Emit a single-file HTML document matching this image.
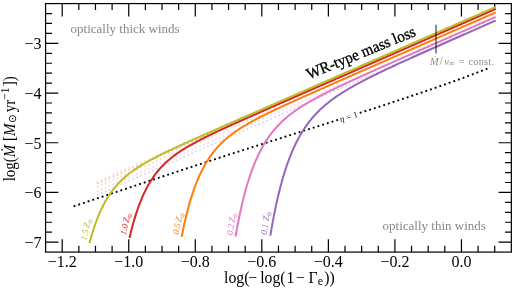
<!DOCTYPE html>
<html><head><meta charset="utf-8"><title>WR-type mass loss</title>
<style>
html,body{margin:0;padding:0;background:#fff;}
body{width:515px;height:292px;overflow:hidden;font-family:"Liberation Serif",serif;}
svg{display:block;will-change:transform;}
text{font-family:"Liberation Serif",serif;}
.tl{font-size:16px;fill:#000;}
.al{font-size:15px;fill:#000;}
.an{font-size:13px;fill:#888;}
.wr{font-size:15.1px;fill:#000;stroke:#000;stroke-width:0.3px;}
.mv{font-size:10.4px;fill:#8c8c8c;}
.eta{font-size:8.6px;fill:#000;}
.zl{font-size:9px;font-style:italic;}
</style></head><body>
<svg width="515" height="292" viewBox="0 0 515 292">
<rect width="515" height="292" fill="#fff"/>
<rect x="45.57" y="3.59" width="465.78" height="248.50" fill="none" stroke="#000" stroke-width="1.2"/>
<path d="M62.20 252.09v-12.8M62.20 3.59v12.8M78.84 252.09v-6.4M78.84 3.59v6.4M95.47 252.09v-6.4M95.47 3.59v6.4M112.11 252.09v-6.4M112.11 3.59v6.4M128.74 252.09v-12.8M128.74 3.59v12.8M145.38 252.09v-6.4M145.38 3.59v6.4M162.01 252.09v-6.4M162.01 3.59v6.4M178.65 252.09v-6.4M178.65 3.59v6.4M195.28 252.09v-12.8M195.28 3.59v12.8M211.92 252.09v-6.4M211.92 3.59v6.4M228.55 252.09v-6.4M228.55 3.59v6.4M245.19 252.09v-6.4M245.19 3.59v6.4M261.82 252.09v-12.8M261.82 3.59v12.8M278.46 252.09v-6.4M278.46 3.59v6.4M295.10 252.09v-6.4M295.10 3.59v6.4M311.73 252.09v-6.4M311.73 3.59v6.4M328.37 252.09v-12.8M328.37 3.59v12.8M345.00 252.09v-6.4M345.00 3.59v6.4M361.64 252.09v-6.4M361.64 3.59v6.4M378.27 252.09v-6.4M378.27 3.59v6.4M394.91 252.09v-12.8M394.91 3.59v12.8M411.54 252.09v-6.4M411.54 3.59v6.4M428.18 252.09v-6.4M428.18 3.59v6.4M444.81 252.09v-6.4M444.81 3.59v6.4M461.45 252.09v-12.8M461.45 3.59v12.8M478.09 252.09v-6.4M478.09 3.59v6.4M494.72 252.09v-6.4M494.72 3.59v6.4M45.57 242.15h12.8M511.35 242.15h-12.8M45.57 232.21h6.4M511.35 232.21h-6.4M45.57 222.27h6.4M511.35 222.27h-6.4M45.57 212.33h6.4M511.35 212.33h-6.4M45.57 202.39h6.4M511.35 202.39h-6.4M45.57 192.45h12.8M511.35 192.45h-12.8M45.57 182.51h6.4M511.35 182.51h-6.4M45.57 172.57h6.4M511.35 172.57h-6.4M45.57 162.63h6.4M511.35 162.63h-6.4M45.57 152.69h6.4M511.35 152.69h-6.4M45.57 142.75h12.8M511.35 142.75h-12.8M45.57 132.81h6.4M511.35 132.81h-6.4M45.57 122.87h6.4M511.35 122.87h-6.4M45.57 112.93h6.4M511.35 112.93h-6.4M45.57 102.99h6.4M511.35 102.99h-6.4M45.57 93.05h12.8M511.35 93.05h-12.8M45.57 83.11h6.4M511.35 83.11h-6.4M45.57 73.17h6.4M511.35 73.17h-6.4M45.57 63.23h6.4M511.35 63.23h-6.4M45.57 53.29h6.4M511.35 53.29h-6.4M45.57 43.35h12.8M511.35 43.35h-12.8M45.57 33.41h6.4M511.35 33.41h-6.4M45.57 23.47h6.4M511.35 23.47h-6.4M45.57 13.53h6.4M511.35 13.53h-6.4" stroke="#000" stroke-width="1.2" fill="none"/>
<line x1="96.90" y1="195.06" x2="494.72" y2="20.83" stroke="#9467bd" stroke-opacity="0.3" stroke-width="1.7" stroke-dasharray="1.7 2.6" fill="none"/>
<line x1="96.90" y1="191.62" x2="494.72" y2="17.38" stroke="#e377c2" stroke-opacity="0.3" stroke-width="1.7" stroke-dasharray="1.7 2.6" fill="none"/>
<line x1="96.90" y1="187.07" x2="494.72" y2="12.84" stroke="#ff7f0e" stroke-opacity="0.3" stroke-width="1.7" stroke-dasharray="1.7 2.6" fill="none"/>
<line x1="96.90" y1="183.63" x2="494.72" y2="9.39" stroke="#d62728" stroke-opacity="0.3" stroke-width="1.7" stroke-dasharray="1.7 2.6" fill="none"/>
<line x1="96.90" y1="181.62" x2="494.72" y2="7.38" stroke="#bcbd22" stroke-opacity="0.3" stroke-width="1.7" stroke-dasharray="1.7 2.6" fill="none"/>
<polyline points="73.60,206.30 77.08,205.14 80.56,203.97 84.04,202.81 87.51,201.64 90.99,200.48 94.47,199.31 97.95,198.14 101.43,196.98 104.91,195.81 108.39,194.64 111.86,193.47 115.34,192.30 118.82,191.13 122.30,189.97 125.78,188.80 129.26,187.63 132.74,186.47 136.21,185.30 139.69,184.13 143.17,182.97 146.65,181.81 150.13,180.64 153.61,179.48 157.09,178.32 160.56,177.16 164.04,176.01 167.52,174.85 171.00,173.69 174.48,172.54 177.96,171.39 181.44,170.24 184.91,169.09 188.39,167.94 191.87,166.80 195.35,165.65 198.83,164.51 202.31,163.37 205.79,162.23 209.26,161.09 212.74,159.96 216.22,158.83 219.70,157.69 223.18,156.56 226.66,155.43 230.14,154.31 233.61,153.18 237.09,152.06 240.57,150.94 244.05,149.82 247.53,148.70 251.01,147.58 254.49,146.46 257.96,145.35 261.44,144.24 264.92,143.12 268.40,142.01 271.88,140.90 275.36,139.79 278.84,138.69 282.31,137.58 285.79,136.47 289.27,135.37 292.75,134.26 296.23,133.16 299.71,132.06 303.19,130.95 306.66,129.85 310.14,128.75 313.62,127.64 317.10,126.54 320.58,125.44 324.06,124.33 327.54,123.23 331.01,122.13 334.49,121.02 337.97,119.91 341.45,118.80 344.93,117.70 348.41,116.59 351.89,115.47 355.36,114.36 358.84,113.24 362.32,112.13 365.80,111.01 369.28,109.88 372.76,108.76 376.24,107.63 379.71,106.50 383.19,105.36 386.67,104.22 390.15,103.08 393.63,101.94 397.11,100.79 400.59,99.63 404.06,98.47 407.54,97.31 411.02,96.14 414.50,94.97 417.98,93.79 421.46,92.60 424.94,91.41 428.41,90.21 431.89,89.01 435.37,87.80 438.85,86.58 442.33,85.36 445.81,84.12 449.29,82.88 452.76,81.63 456.24,80.37 459.72,79.11 463.20,77.83 466.68,76.55 470.16,75.25 473.64,73.95 477.11,72.63 480.59,71.31 484.07,69.97 487.55,68.62" stroke="#000" stroke-width="1.9" stroke-dasharray="1.9 3.035" fill="none"/>
<polyline points="270.51,234.64 271.07,231.32 271.63,228.08 272.19,224.92 272.76,221.85 273.32,218.85 273.88,215.93 274.44,213.09 275.00,210.31 275.57,207.61 276.13,204.98 276.69,202.41 277.25,199.90 277.81,197.46 278.38,195.08 278.94,192.75 279.50,190.49 280.06,188.27 280.62,186.12 281.19,184.01 281.75,181.96 282.31,179.95 282.87,178.00 283.43,176.09 284.00,174.22 284.56,172.40 285.12,170.62 285.68,168.89 286.24,167.19 286.80,165.54 287.37,163.92 287.93,162.34 288.49,160.79 289.05,159.28 289.61,157.80 290.18,156.36 290.74,154.95 291.30,153.57 291.86,152.22 292.42,150.90 292.99,149.61 293.55,148.35 294.11,147.11 294.67,145.90 295.23,144.72 295.80,143.56 296.36,142.42 296.92,141.31 297.48,140.22 298.04,139.16 298.61,138.11 299.17,137.09 299.73,136.09 300.29,135.10 300.85,134.14 301.42,133.19 301.98,132.27 302.54,131.36 303.10,130.47 303.66,129.59 304.22,128.73 304.79,127.89 305.35,127.06 305.91,126.25 306.47,125.46 307.03,124.67 307.60,123.90 308.16,123.15 308.72,122.41 309.28,121.68 309.84,120.96 310.41,120.26 310.97,119.56 311.53,118.88 312.09,118.21 312.65,117.55 313.22,116.90 313.78,116.26 314.34,115.63 314.90,115.01 315.46,114.40 316.03,113.80 316.59,113.21 317.15,112.63 317.71,112.06 318.27,111.49 318.84,110.93 319.40,110.38 319.96,109.84 320.52,109.30 321.08,108.78 321.64,108.26 322.21,107.74 322.77,107.23 323.33,106.73 323.89,106.24 324.45,105.75 325.02,105.27 325.58,104.79 326.14,104.32 326.70,103.86 327.26,103.40 327.83,102.94 328.39,102.49 328.95,102.05 329.51,101.61 330.07,101.17 330.64,100.74 331.20,100.32 331.76,99.90 332.32,99.48 332.88,99.07 333.45,98.66 334.01,98.25 334.57,97.85 335.13,97.45 335.69,97.06 336.26,96.67 336.82,96.28 337.38,95.90 337.94,95.52 338.50,95.14 339.06,94.77 339.63,94.40 340.19,94.03 340.75,93.67 341.31,93.30 341.87,92.94 342.44,92.59 343.00,92.23 343.56,91.88 344.12,91.53 344.68,91.19 345.25,90.84 345.81,90.50 346.37,90.16 346.93,89.82 347.49,89.49 348.06,89.15 348.62,88.82 349.18,88.49 349.74,88.17 350.30,87.84 350.87,87.52 351.43,87.19 351.99,86.87 352.55,86.56 353.11,86.24 353.68,85.92 354.24,85.61 354.80,85.30 355.36,84.99 355.92,84.68 356.48,84.37 357.05,84.06 357.61,83.76 358.17,83.46 358.73,83.15 359.29,82.85 359.86,82.55 360.42,82.25 360.98,81.96 361.54,81.66 362.10,81.36 362.67,81.07 363.23,80.78 363.79,80.49 364.35,80.19 364.91,79.90 365.48,79.61 366.04,79.33 366.60,79.04 367.16,78.75 367.72,78.47 368.29,78.18 368.85,77.90 369.41,77.62 369.97,77.33 370.53,77.05 371.10,76.77 371.66,76.49 372.22,76.21 372.78,75.94 373.34,75.66 373.90,75.38 374.47,75.10 375.03,74.83 375.59,74.55 376.15,74.28 376.71,74.01 377.28,73.73 377.84,73.46 378.40,73.19 378.96,72.92 379.52,72.64 380.09,72.37 380.65,72.10 381.21,71.83 381.77,71.57 382.33,71.30 382.90,71.03 383.46,70.76 384.02,70.49 384.58,70.23 385.14,69.96 385.71,69.69 386.27,69.43 386.83,69.16 387.39,68.90 387.95,68.63 388.52,68.37 389.08,68.11 389.64,67.84 390.20,67.58 390.76,67.32 391.32,67.06 391.89,66.79 392.45,66.53 393.01,66.27 393.57,66.01 394.13,65.75 394.70,65.49 395.26,65.23 395.82,64.97 396.38,64.71 396.94,64.45 397.51,64.19 398.07,63.93 398.63,63.67 399.19,63.42 399.75,63.16 400.32,62.90 400.88,62.64 401.44,62.38 402.00,62.13 402.56,61.87 403.13,61.61 403.69,61.36 404.25,61.10 404.81,60.84 405.37,60.59 405.94,60.33 406.50,60.08 407.06,59.82 407.62,59.57 408.18,59.31 408.74,59.06 409.31,58.80 409.87,58.55 410.43,58.29 410.99,58.04 411.55,57.78 412.12,57.53 412.68,57.28 413.24,57.02 413.80,56.77 414.36,56.52 414.93,56.26 415.49,56.01 416.05,55.76 416.61,55.50 417.17,55.25 417.74,55.00 418.30,54.75 418.86,54.49 419.42,54.24 419.98,53.99 420.55,53.74 421.11,53.49 421.67,53.23 422.23,52.98 422.79,52.73 423.36,52.48 423.92,52.23 424.48,51.98 425.04,51.72 425.60,51.47 426.16,51.22 426.73,50.97 427.29,50.72 427.85,50.47 428.41,50.22 428.97,49.97 429.54,49.72 430.10,49.47 430.66,49.22 431.22,48.97 431.78,48.72 432.35,48.47 432.91,48.22 433.47,47.97 434.03,47.72 434.59,47.47 435.16,47.22 435.72,46.97 436.28,46.72 436.84,46.47 437.40,46.22 437.97,45.97 438.53,45.72 439.09,45.47 439.65,45.22 440.21,44.97 440.78,44.72 441.34,44.47 441.90,44.22 442.46,43.97 443.02,43.72 443.58,43.48 444.15,43.23 444.71,42.98 445.27,42.73 445.83,42.48 446.39,42.23 446.96,41.98 447.52,41.73 448.08,41.48 448.64,41.24 449.20,40.99 449.77,40.74 450.33,40.49 450.89,40.24 451.45,39.99 452.01,39.75 452.58,39.50 453.14,39.25 453.70,39.00 454.26,38.75 454.82,38.50 455.39,38.26 455.95,38.01 456.51,37.76 457.07,37.51 457.63,37.26 458.20,37.02 458.76,36.77 459.32,36.52 459.88,36.27 460.44,36.02 461.00,35.78 461.57,35.53 462.13,35.28 462.69,35.03 463.25,34.78 463.81,34.54 464.38,34.29 464.94,34.04 465.50,33.79 466.06,33.55 466.62,33.30 467.19,33.05 467.75,32.80 468.31,32.56 468.87,32.31 469.43,32.06 470.00,31.81 470.56,31.57 471.12,31.32 471.68,31.07 472.24,30.82 472.81,30.58 473.37,30.33 473.93,30.08 474.49,29.83 475.05,29.59 475.62,29.34 476.18,29.09 476.74,28.84 477.30,28.60 477.86,28.35 478.42,28.10 478.99,27.86 479.55,27.61 480.11,27.36 480.67,27.11 481.23,26.87 481.80,26.62 482.36,26.37 482.92,26.13 483.48,25.88 484.04,25.63 484.61,25.38 485.17,25.14 485.73,24.89 486.29,24.64 486.85,24.40 487.42,24.15 487.98,23.90 488.54,23.66 489.10,23.41 489.66,23.16 490.23,22.91 490.79,22.67 491.35,22.42 491.91,22.17 492.47,21.93 493.04,21.68 493.60,21.43 494.16,21.19 494.72,20.94" stroke="#9467bd" stroke-width="2" fill="none" stroke-linejoin="round" stroke-linecap="square"/>
<polyline points="235.74,235.53 236.39,231.84 237.04,228.27 237.69,224.81 238.34,221.46 238.99,218.20 239.64,215.05 240.28,211.99 240.93,209.03 241.58,206.15 242.23,203.37 242.88,200.66 243.53,198.04 244.18,195.49 244.83,193.02 245.48,190.62 246.13,188.29 246.77,186.03 247.42,183.83 248.07,181.70 248.72,179.63 249.37,177.62 250.02,175.66 250.67,173.76 251.32,171.91 251.97,170.12 252.62,168.37 253.27,166.67 253.91,165.02 254.56,163.41 255.21,161.85 255.86,160.32 256.51,158.84 257.16,157.40 257.81,155.99 258.46,154.62 259.11,153.29 259.76,151.99 260.41,150.72 261.05,149.49 261.70,148.28 262.35,147.11 263.00,145.96 263.65,144.84 264.30,143.75 264.95,142.69 265.60,141.65 266.25,140.63 266.90,139.64 267.55,138.67 268.19,137.72 268.84,136.79 269.49,135.89 270.14,135.00 270.79,134.13 271.44,133.28 272.09,132.45 272.74,131.64 273.39,130.84 274.04,130.06 274.69,129.29 275.33,128.54 275.98,127.81 276.63,127.09 277.28,126.38 277.93,125.69 278.58,125.00 279.23,124.34 279.88,123.68 280.53,123.03 281.18,122.40 281.82,121.78 282.47,121.16 283.12,120.56 283.77,119.97 284.42,119.39 285.07,118.81 285.72,118.25 286.37,117.69 287.02,117.14 287.67,116.60 288.32,116.07 288.96,115.55 289.61,115.03 290.26,114.52 290.91,114.02 291.56,113.52 292.21,113.03 292.86,112.55 293.51,112.07 294.16,111.60 294.81,111.13 295.46,110.67 296.10,110.22 296.75,109.77 297.40,109.32 298.05,108.88 298.70,108.45 299.35,108.02 300.00,107.59 300.65,107.17 301.30,106.75 301.95,106.33 302.60,105.92 303.24,105.52 303.89,105.12 304.54,104.72 305.19,104.32 305.84,103.93 306.49,103.54 307.14,103.15 307.79,102.77 308.44,102.39 309.09,102.01 309.74,101.64 310.38,101.26 311.03,100.89 311.68,100.53 312.33,100.16 312.98,99.80 313.63,99.44 314.28,99.08 314.93,98.72 315.58,98.37 316.23,98.02 316.87,97.67 317.52,97.32 318.17,96.98 318.82,96.63 319.47,96.29 320.12,95.95 320.77,95.61 321.42,95.27 322.07,94.93 322.72,94.60 323.37,94.27 324.01,93.93 324.66,93.60 325.31,93.27 325.96,92.95 326.61,92.62 327.26,92.29 327.91,91.97 328.56,91.65 329.21,91.32 329.86,91.00 330.51,90.68 331.15,90.36 331.80,90.05 332.45,89.73 333.10,89.41 333.75,89.10 334.40,88.78 335.05,88.47 335.70,88.15 336.35,87.84 337.00,87.53 337.65,87.22 338.29,86.91 338.94,86.60 339.59,86.29 340.24,85.98 340.89,85.68 341.54,85.37 342.19,85.06 342.84,84.76 343.49,84.45 344.14,84.15 344.78,83.85 345.43,83.54 346.08,83.24 346.73,82.94 347.38,82.64 348.03,82.33 348.68,82.03 349.33,81.73 349.98,81.43 350.63,81.13 351.28,80.83 351.92,80.54 352.57,80.24 353.22,79.94 353.87,79.64 354.52,79.34 355.17,79.05 355.82,78.75 356.47,78.45 357.12,78.16 357.77,77.86 358.42,77.57 359.06,77.27 359.71,76.98 360.36,76.68 361.01,76.39 361.66,76.09 362.31,75.80 362.96,75.51 363.61,75.21 364.26,74.92 364.91,74.63 365.56,74.33 366.20,74.04 366.85,73.75 367.50,73.46 368.15,73.16 368.80,72.87 369.45,72.58 370.10,72.29 370.75,72.00 371.40,71.71 372.05,71.42 372.70,71.13 373.34,70.84 373.99,70.55 374.64,70.25 375.29,69.96 375.94,69.67 376.59,69.39 377.24,69.10 377.89,68.81 378.54,68.52 379.19,68.23 379.83,67.94 380.48,67.65 381.13,67.36 381.78,67.07 382.43,66.78 383.08,66.49 383.73,66.21 384.38,65.92 385.03,65.63 385.68,65.34 386.33,65.05 386.97,64.76 387.62,64.48 388.27,64.19 388.92,63.90 389.57,63.61 390.22,63.33 390.87,63.04 391.52,62.75 392.17,62.46 392.82,62.18 393.47,61.89 394.11,61.60 394.76,61.31 395.41,61.03 396.06,60.74 396.71,60.45 397.36,60.17 398.01,59.88 398.66,59.59 399.31,59.31 399.96,59.02 400.61,58.73 401.25,58.45 401.90,58.16 402.55,57.87 403.20,57.59 403.85,57.30 404.50,57.01 405.15,56.73 405.80,56.44 406.45,56.15 407.10,55.87 407.75,55.58 408.39,55.30 409.04,55.01 409.69,54.72 410.34,54.44 410.99,54.15 411.64,53.87 412.29,53.58 412.94,53.30 413.59,53.01 414.24,52.72 414.88,52.44 415.53,52.15 416.18,51.87 416.83,51.58 417.48,51.30 418.13,51.01 418.78,50.72 419.43,50.44 420.08,50.15 420.73,49.87 421.38,49.58 422.02,49.30 422.67,49.01 423.32,48.73 423.97,48.44 424.62,48.16 425.27,47.87 425.92,47.58 426.57,47.30 427.22,47.01 427.87,46.73 428.52,46.44 429.16,46.16 429.81,45.87 430.46,45.59 431.11,45.30 431.76,45.02 432.41,44.73 433.06,44.45 433.71,44.16 434.36,43.88 435.01,43.59 435.66,43.31 436.30,43.02 436.95,42.74 437.60,42.45 438.25,42.17 438.90,41.88 439.55,41.60 440.20,41.31 440.85,41.03 441.50,40.74 442.15,40.46 442.79,40.17 443.44,39.89 444.09,39.60 444.74,39.32 445.39,39.03 446.04,38.75 446.69,38.46 447.34,38.18 447.99,37.89 448.64,37.61 449.29,37.32 449.93,37.04 450.58,36.76 451.23,36.47 451.88,36.19 452.53,35.90 453.18,35.62 453.83,35.33 454.48,35.05 455.13,34.76 455.78,34.48 456.43,34.19 457.07,33.91 457.72,33.62 458.37,33.34 459.02,33.05 459.67,32.77 460.32,32.48 460.97,32.20 461.62,31.92 462.27,31.63 462.92,31.35 463.57,31.06 464.21,30.78 464.86,30.49 465.51,30.21 466.16,29.92 466.81,29.64 467.46,29.35 468.11,29.07 468.76,28.79 469.41,28.50 470.06,28.22 470.71,27.93 471.35,27.65 472.00,27.36 472.65,27.08 473.30,26.79 473.95,26.51 474.60,26.22 475.25,25.94 475.90,25.66 476.55,25.37 477.20,25.09 477.84,24.80 478.49,24.52 479.14,24.23 479.79,23.95 480.44,23.66 481.09,23.38 481.74,23.09 482.39,22.81 483.04,22.53 483.69,22.24 484.34,21.96 484.98,21.67 485.63,21.39 486.28,21.10 486.93,20.82 487.58,20.53 488.23,20.25 488.88,19.97 489.53,19.68 490.18,19.40 490.83,19.11 491.48,18.83 492.12,18.54 492.77,18.26 493.42,17.97 494.07,17.69 494.72,17.41" stroke="#e377c2" stroke-width="2" fill="none" stroke-linejoin="round" stroke-linecap="square"/>
<polyline points="181.84,235.87 182.63,231.95 183.41,228.19 184.19,224.57 184.98,221.09 185.76,217.74 186.55,214.52 187.33,211.42 188.12,208.43 188.90,205.56 189.68,202.80 190.47,200.13 191.25,197.57 192.04,195.10 192.82,192.71 193.60,190.42 194.39,188.20 195.17,186.07 195.96,184.01 196.74,182.02 197.53,180.10 198.31,178.24 199.09,176.45 199.88,174.72 200.66,173.04 201.45,171.43 202.23,169.86 203.01,168.35 203.80,166.88 204.58,165.46 205.37,164.09 206.15,162.76 206.93,161.47 207.72,160.21 208.50,159.00 209.29,157.82 210.07,156.68 210.86,155.57 211.64,154.49 212.42,153.44 213.21,152.42 213.99,151.43 214.78,150.46 215.56,149.52 216.34,148.61 217.13,147.71 217.91,146.84 218.70,145.99 219.48,145.17 220.27,144.36 221.05,143.57 221.83,142.80 222.62,142.04 223.40,141.31 224.19,140.58 224.97,139.88 225.75,139.19 226.54,138.51 227.32,137.85 228.11,137.19 228.89,136.56 229.68,135.93 230.46,135.31 231.24,134.71 232.03,134.12 232.81,133.53 233.60,132.96 234.38,132.39 235.16,131.84 235.95,131.29 236.73,130.75 237.52,130.22 238.30,129.69 239.09,129.17 239.87,128.66 240.65,128.16 241.44,127.66 242.22,127.17 243.01,126.69 243.79,126.21 244.57,125.73 245.36,125.26 246.14,124.80 246.93,124.34 247.71,123.88 248.50,123.43 249.28,122.98 250.06,122.54 250.85,122.10 251.63,121.67 252.42,121.24 253.20,120.81 253.98,120.38 254.77,119.96 255.55,119.54 256.34,119.13 257.12,118.71 257.91,118.30 258.69,117.90 259.47,117.49 260.26,117.09 261.04,116.69 261.83,116.29 262.61,115.89 263.39,115.50 264.18,115.11 264.96,114.72 265.75,114.33 266.53,113.94 267.32,113.55 268.10,113.17 268.88,112.79 269.67,112.41 270.45,112.03 271.24,111.65 272.02,111.27 272.80,110.90 273.59,110.52 274.37,110.15 275.16,109.78 275.94,109.41 276.72,109.04 277.51,108.67 278.29,108.30 279.08,107.93 279.86,107.57 280.65,107.20 281.43,106.84 282.21,106.47 283.00,106.11 283.78,105.75 284.57,105.39 285.35,105.03 286.13,104.67 286.92,104.31 287.70,103.95 288.49,103.59 289.27,103.23 290.06,102.87 290.84,102.52 291.62,102.16 292.41,101.80 293.19,101.45 293.98,101.09 294.76,100.74 295.54,100.38 296.33,100.03 297.11,99.68 297.90,99.32 298.68,98.97 299.47,98.62 300.25,98.27 301.03,97.91 301.82,97.56 302.60,97.21 303.39,96.86 304.17,96.51 304.95,96.16 305.74,95.81 306.52,95.46 307.31,95.11 308.09,94.76 308.88,94.41 309.66,94.06 310.44,93.71 311.23,93.36 312.01,93.01 312.80,92.67 313.58,92.32 314.36,91.97 315.15,91.62 315.93,91.27 316.72,90.93 317.50,90.58 318.29,90.23 319.07,89.88 319.85,89.54 320.64,89.19 321.42,88.84 322.21,88.50 322.99,88.15 323.77,87.80 324.56,87.46 325.34,87.11 326.13,86.76 326.91,86.42 327.70,86.07 328.48,85.73 329.26,85.38 330.05,85.03 330.83,84.69 331.62,84.34 332.40,84.00 333.18,83.65 333.97,83.31 334.75,82.96 335.54,82.62 336.32,82.27 337.11,81.93 337.89,81.58 338.67,81.24 339.46,80.89 340.24,80.55 341.03,80.20 341.81,79.86 342.59,79.51 343.38,79.17 344.16,78.82 344.95,78.48 345.73,78.13 346.52,77.79 347.30,77.44 348.08,77.10 348.87,76.75 349.65,76.41 350.44,76.07 351.22,75.72 352.00,75.38 352.79,75.03 353.57,74.69 354.36,74.34 355.14,74.00 355.92,73.65 356.71,73.31 357.49,72.97 358.28,72.62 359.06,72.28 359.85,71.93 360.63,71.59 361.41,71.25 362.20,70.90 362.98,70.56 363.77,70.21 364.55,69.87 365.33,69.53 366.12,69.18 366.90,68.84 367.69,68.49 368.47,68.15 369.26,67.81 370.04,67.46 370.82,67.12 371.61,66.77 372.39,66.43 373.18,66.09 373.96,65.74 374.74,65.40 375.53,65.05 376.31,64.71 377.10,64.37 377.88,64.02 378.67,63.68 379.45,63.34 380.23,62.99 381.02,62.65 381.80,62.30 382.59,61.96 383.37,61.62 384.15,61.27 384.94,60.93 385.72,60.59 386.51,60.24 387.29,59.90 388.08,59.55 388.86,59.21 389.64,58.87 390.43,58.52 391.21,58.18 392.00,57.84 392.78,57.49 393.56,57.15 394.35,56.81 395.13,56.46 395.92,56.12 396.70,55.77 397.49,55.43 398.27,55.09 399.05,54.74 399.84,54.40 400.62,54.06 401.41,53.71 402.19,53.37 402.97,53.03 403.76,52.68 404.54,52.34 405.33,52.00 406.11,51.65 406.90,51.31 407.68,50.96 408.46,50.62 409.25,50.28 410.03,49.93 410.82,49.59 411.60,49.25 412.38,48.90 413.17,48.56 413.95,48.22 414.74,47.87 415.52,47.53 416.31,47.19 417.09,46.84 417.87,46.50 418.66,46.15 419.44,45.81 420.23,45.47 421.01,45.12 421.79,44.78 422.58,44.44 423.36,44.09 424.15,43.75 424.93,43.41 425.71,43.06 426.50,42.72 427.28,42.38 428.07,42.03 428.85,41.69 429.64,41.35 430.42,41.00 431.20,40.66 431.99,40.32 432.77,39.97 433.56,39.63 434.34,39.28 435.12,38.94 435.91,38.60 436.69,38.25 437.48,37.91 438.26,37.57 439.05,37.22 439.83,36.88 440.61,36.54 441.40,36.19 442.18,35.85 442.97,35.51 443.75,35.16 444.53,34.82 445.32,34.48 446.10,34.13 446.89,33.79 447.67,33.45 448.46,33.10 449.24,32.76 450.02,32.41 450.81,32.07 451.59,31.73 452.38,31.38 453.16,31.04 453.94,30.70 454.73,30.35 455.51,30.01 456.30,29.67 457.08,29.32 457.87,28.98 458.65,28.64 459.43,28.29 460.22,27.95 461.00,27.61 461.79,27.26 462.57,26.92 463.35,26.58 464.14,26.23 464.92,25.89 465.71,25.55 466.49,25.20 467.28,24.86 468.06,24.51 468.84,24.17 469.63,23.83 470.41,23.48 471.20,23.14 471.98,22.80 472.76,22.45 473.55,22.11 474.33,21.77 475.12,21.42 475.90,21.08 476.69,20.74 477.47,20.39 478.25,20.05 479.04,19.71 479.82,19.36 480.61,19.02 481.39,18.68 482.17,18.33 482.96,17.99 483.74,17.65 484.53,17.30 485.31,16.96 486.10,16.62 486.88,16.27 487.66,15.93 488.45,15.58 489.23,15.24 490.02,14.90 490.80,14.55 491.58,14.21 492.37,13.87 493.15,13.52 493.94,13.18 494.72,12.84" stroke="#ff7f0e" stroke-width="2" fill="none" stroke-linejoin="round" stroke-linecap="square"/>
<polyline points="129.71,236.94 130.62,233.15 131.54,229.53 132.45,226.07 133.37,222.76 134.28,219.61 135.20,216.59 136.11,213.71 137.03,210.95 137.94,208.31 138.85,205.79 139.77,203.37 140.68,201.05 141.60,198.83 142.51,196.71 143.43,194.67 144.34,192.71 145.26,190.83 146.17,189.02 147.09,187.29 148.00,185.62 148.92,184.02 149.83,182.48 150.75,180.99 151.66,179.56 152.58,178.18 153.49,176.85 154.41,175.56 155.32,174.32 156.24,173.12 157.15,171.96 158.07,170.84 158.98,169.76 159.90,168.71 160.81,167.69 161.73,166.70 162.64,165.74 163.55,164.81 164.47,163.91 165.38,163.03 166.30,162.17 167.21,161.34 168.13,160.52 169.04,159.73 169.96,158.96 170.87,158.21 171.79,157.47 172.70,156.75 173.62,156.04 174.53,155.35 175.45,154.68 176.36,154.02 177.28,153.37 178.19,152.73 179.11,152.10 180.02,151.49 180.94,150.89 181.85,150.29 182.77,149.71 183.68,149.13 184.60,148.56 185.51,148.00 186.43,147.45 187.34,146.91 188.26,146.37 189.17,145.84 190.08,145.32 191.00,144.80 191.91,144.29 192.83,143.78 193.74,143.28 194.66,142.78 195.57,142.29 196.49,141.80 197.40,141.31 198.32,140.83 199.23,140.36 200.15,139.88 201.06,139.42 201.98,138.95 202.89,138.49 203.81,138.03 204.72,137.57 205.64,137.12 206.55,136.66 207.47,136.21 208.38,135.77 209.30,135.32 210.21,134.88 211.13,134.44 212.04,134.00 212.96,133.56 213.87,133.13 214.79,132.69 215.70,132.26 216.61,131.83 217.53,131.40 218.44,130.97 219.36,130.55 220.27,130.12 221.19,129.70 222.10,129.27 223.02,128.85 223.93,128.43 224.85,128.01 225.76,127.59 226.68,127.17 227.59,126.75 228.51,126.34 229.42,125.92 230.34,125.51 231.25,125.09 232.17,124.68 233.08,124.26 234.00,123.85 234.91,123.44 235.83,123.03 236.74,122.62 237.66,122.21 238.57,121.79 239.49,121.38 240.40,120.98 241.31,120.57 242.23,120.16 243.14,119.75 244.06,119.34 244.97,118.93 245.89,118.53 246.80,118.12 247.72,117.71 248.63,117.31 249.55,116.90 250.46,116.49 251.38,116.09 252.29,115.68 253.21,115.28 254.12,114.87 255.04,114.47 255.95,114.06 256.87,113.66 257.78,113.25 258.70,112.85 259.61,112.45 260.53,112.04 261.44,111.64 262.36,111.23 263.27,110.83 264.19,110.43 265.10,110.02 266.02,109.62 266.93,109.22 267.84,108.81 268.76,108.41 269.67,108.01 270.59,107.61 271.50,107.20 272.42,106.80 273.33,106.40 274.25,106.00 275.16,105.59 276.08,105.19 276.99,104.79 277.91,104.39 278.82,103.99 279.74,103.58 280.65,103.18 281.57,102.78 282.48,102.38 283.40,101.98 284.31,101.58 285.23,101.17 286.14,100.77 287.06,100.37 287.97,99.97 288.89,99.57 289.80,99.17 290.72,98.76 291.63,98.36 292.54,97.96 293.46,97.56 294.37,97.16 295.29,96.76 296.20,96.36 297.12,95.96 298.03,95.55 298.95,95.15 299.86,94.75 300.78,94.35 301.69,93.95 302.61,93.55 303.52,93.15 304.44,92.75 305.35,92.34 306.27,91.94 307.18,91.54 308.10,91.14 309.01,90.74 309.93,90.34 310.84,89.94 311.76,89.54 312.67,89.14 313.59,88.74 314.50,88.34 315.42,87.93 316.33,87.53 317.25,87.13 318.16,86.73 319.07,86.33 319.99,85.93 320.90,85.53 321.82,85.13 322.73,84.73 323.65,84.33 324.56,83.93 325.48,83.52 326.39,83.12 327.31,82.72 328.22,82.32 329.14,81.92 330.05,81.52 330.97,81.12 331.88,80.72 332.80,80.32 333.71,79.92 334.63,79.52 335.54,79.12 336.46,78.71 337.37,78.31 338.29,77.91 339.20,77.51 340.12,77.11 341.03,76.71 341.95,76.31 342.86,75.91 343.78,75.51 344.69,75.11 345.60,74.71 346.52,74.31 347.43,73.91 348.35,73.51 349.26,73.10 350.18,72.70 351.09,72.30 352.01,71.90 352.92,71.50 353.84,71.10 354.75,70.70 355.67,70.30 356.58,69.90 357.50,69.50 358.41,69.10 359.33,68.70 360.24,68.30 361.16,67.89 362.07,67.49 362.99,67.09 363.90,66.69 364.82,66.29 365.73,65.89 366.65,65.49 367.56,65.09 368.48,64.69 369.39,64.29 370.30,63.89 371.22,63.49 372.13,63.09 373.05,62.69 373.96,62.29 374.88,61.88 375.79,61.48 376.71,61.08 377.62,60.68 378.54,60.28 379.45,59.88 380.37,59.48 381.28,59.08 382.20,58.68 383.11,58.28 384.03,57.88 384.94,57.48 385.86,57.08 386.77,56.68 387.69,56.27 388.60,55.87 389.52,55.47 390.43,55.07 391.35,54.67 392.26,54.27 393.18,53.87 394.09,53.47 395.01,53.07 395.92,52.67 396.83,52.27 397.75,51.87 398.66,51.47 399.58,51.07 400.49,50.66 401.41,50.26 402.32,49.86 403.24,49.46 404.15,49.06 405.07,48.66 405.98,48.26 406.90,47.86 407.81,47.46 408.73,47.06 409.64,46.66 410.56,46.26 411.47,45.86 412.39,45.46 413.30,45.06 414.22,44.65 415.13,44.25 416.05,43.85 416.96,43.45 417.88,43.05 418.79,42.65 419.71,42.25 420.62,41.85 421.54,41.45 422.45,41.05 423.36,40.65 424.28,40.25 425.19,39.85 426.11,39.45 427.02,39.05 427.94,38.64 428.85,38.24 429.77,37.84 430.68,37.44 431.60,37.04 432.51,36.64 433.43,36.24 434.34,35.84 435.26,35.44 436.17,35.04 437.09,34.64 438.00,34.24 438.92,33.84 439.83,33.44 440.75,33.04 441.66,32.63 442.58,32.23 443.49,31.83 444.41,31.43 445.32,31.03 446.24,30.63 447.15,30.23 448.06,29.83 448.98,29.43 449.89,29.03 450.81,28.63 451.72,28.23 452.64,27.83 453.55,27.43 454.47,27.02 455.38,26.62 456.30,26.22 457.21,25.82 458.13,25.42 459.04,25.02 459.96,24.62 460.87,24.22 461.79,23.82 462.70,23.42 463.62,23.02 464.53,22.62 465.45,22.22 466.36,21.82 467.28,21.42 468.19,21.01 469.11,20.61 470.02,20.21 470.94,19.81 471.85,19.41 472.77,19.01 473.68,18.61 474.59,18.21 475.51,17.81 476.42,17.41 477.34,17.01 478.25,16.61 479.17,16.21 480.08,15.81 481.00,15.41 481.91,15.00 482.83,14.60 483.74,14.20 484.66,13.80 485.57,13.40 486.49,13.00 487.40,12.60 488.32,12.20 489.23,11.80 490.15,11.40 491.06,11.00 491.98,10.60 492.89,10.20 493.81,9.80 494.72,9.40" stroke="#d62728" stroke-width="2" fill="none" stroke-linejoin="round" stroke-linecap="square"/>
<polyline points="89.75,242.10 90.76,238.41 91.78,234.90 92.79,231.57 93.81,228.41 94.82,225.40 95.84,222.53 96.85,219.81 97.87,217.21 98.88,214.74 99.90,212.38 100.91,210.13 101.93,207.99 102.94,205.94 103.96,203.98 104.97,202.11 105.99,200.32 107.00,198.60 108.02,196.96 109.03,195.38 110.05,193.87 111.06,192.42 112.08,191.03 113.09,189.69 114.11,188.40 115.12,187.16 116.14,185.96 117.15,184.81 118.17,183.69 119.18,182.61 120.20,181.57 121.21,180.57 122.23,179.59 123.24,178.64 124.26,177.73 125.27,176.83 126.29,175.97 127.30,175.12 128.32,174.30 129.33,173.50 130.35,172.72 131.36,171.96 132.38,171.22 133.39,170.49 134.41,169.78 135.42,169.09 136.44,168.40 137.45,167.74 138.47,167.08 139.48,166.43 140.50,165.80 141.51,165.18 142.53,164.56 143.54,163.96 144.56,163.37 145.57,162.78 146.59,162.20 147.60,161.63 148.62,161.06 149.63,160.51 150.65,159.95 151.66,159.41 152.68,158.87 153.69,158.33 154.71,157.80 155.72,157.28 156.74,156.76 157.75,156.24 158.77,155.73 159.78,155.22 160.80,154.71 161.81,154.21 162.83,153.71 163.84,153.22 164.86,152.72 165.87,152.23 166.89,151.74 167.90,151.26 168.92,150.77 169.93,150.29 170.95,149.81 171.96,149.34 172.98,148.86 173.99,148.39 175.01,147.91 176.02,147.44 177.04,146.97 178.05,146.50 179.07,146.04 180.08,145.57 181.10,145.11 182.11,144.64 183.13,144.18 184.14,143.72 185.16,143.26 186.17,142.80 187.19,142.34 188.20,141.88 189.22,141.42 190.23,140.97 191.25,140.51 192.26,140.06 193.28,139.60 194.29,139.15 195.31,138.69 196.32,138.24 197.33,137.79 198.35,137.33 199.36,136.88 200.38,136.43 201.39,135.98 202.41,135.53 203.42,135.08 204.44,134.63 205.45,134.18 206.47,133.73 207.48,133.28 208.50,132.83 209.51,132.38 210.53,131.93 211.54,131.48 212.56,131.03 213.57,130.59 214.59,130.14 215.60,129.69 216.62,129.24 217.63,128.80 218.65,128.35 219.66,127.90 220.68,127.45 221.69,127.01 222.71,126.56 223.72,126.11 224.74,125.67 225.75,125.22 226.77,124.77 227.78,124.33 228.80,123.88 229.81,123.44 230.83,122.99 231.84,122.54 232.86,122.10 233.87,121.65 234.89,121.21 235.90,120.76 236.92,120.32 237.93,119.87 238.95,119.42 239.96,118.98 240.98,118.53 241.99,118.09 243.01,117.64 244.02,117.20 245.04,116.75 246.05,116.31 247.07,115.86 248.08,115.42 249.10,114.97 250.11,114.53 251.13,114.08 252.14,113.64 253.16,113.19 254.17,112.75 255.19,112.30 256.20,111.86 257.22,111.41 258.23,110.97 259.25,110.52 260.26,110.08 261.28,109.63 262.29,109.19 263.31,108.74 264.32,108.30 265.34,107.85 266.35,107.41 267.37,106.96 268.38,106.52 269.40,106.07 270.41,105.63 271.43,105.18 272.44,104.74 273.46,104.30 274.47,103.85 275.49,103.41 276.50,102.96 277.52,102.52 278.53,102.07 279.55,101.63 280.56,101.18 281.58,100.74 282.59,100.29 283.61,99.85 284.62,99.40 285.64,98.96 286.65,98.51 287.67,98.07 288.68,97.63 289.70,97.18 290.71,96.74 291.73,96.29 292.74,95.85 293.76,95.40 294.77,94.96 295.79,94.51 296.80,94.07 297.82,93.62 298.83,93.18 299.85,92.73 300.86,92.29 301.88,91.85 302.89,91.40 303.91,90.96 304.92,90.51 305.94,90.07 306.95,89.62 307.97,89.18 308.98,88.73 310.00,88.29 311.01,87.84 312.03,87.40 313.04,86.96 314.06,86.51 315.07,86.07 316.09,85.62 317.10,85.18 318.12,84.73 319.13,84.29 320.15,83.84 321.16,83.40 322.18,82.95 323.19,82.51 324.21,82.06 325.22,81.62 326.24,81.18 327.25,80.73 328.27,80.29 329.28,79.84 330.30,79.40 331.31,78.95 332.33,78.51 333.34,78.06 334.36,77.62 335.37,77.17 336.39,76.73 337.40,76.29 338.42,75.84 339.43,75.40 340.45,74.95 341.46,74.51 342.48,74.06 343.49,73.62 344.51,73.17 345.52,72.73 346.54,72.28 347.55,71.84 348.57,71.40 349.58,70.95 350.60,70.51 351.61,70.06 352.63,69.62 353.64,69.17 354.66,68.73 355.67,68.28 356.69,67.84 357.70,67.39 358.72,66.95 359.73,66.51 360.74,66.06 361.76,65.62 362.77,65.17 363.79,64.73 364.80,64.28 365.82,63.84 366.83,63.39 367.85,62.95 368.86,62.50 369.88,62.06 370.89,61.62 371.91,61.17 372.92,60.73 373.94,60.28 374.95,59.84 375.97,59.39 376.98,58.95 378.00,58.50 379.01,58.06 380.03,57.61 381.04,57.17 382.06,56.73 383.07,56.28 384.09,55.84 385.10,55.39 386.12,54.95 387.13,54.50 388.15,54.06 389.16,53.61 390.18,53.17 391.19,52.73 392.21,52.28 393.22,51.84 394.24,51.39 395.25,50.95 396.27,50.50 397.28,50.06 398.30,49.61 399.31,49.17 400.33,48.72 401.34,48.28 402.36,47.84 403.37,47.39 404.39,46.95 405.40,46.50 406.42,46.06 407.43,45.61 408.45,45.17 409.46,44.72 410.48,44.28 411.49,43.83 412.51,43.39 413.52,42.95 414.54,42.50 415.55,42.06 416.57,41.61 417.58,41.17 418.60,40.72 419.61,40.28 420.63,39.83 421.64,39.39 422.66,38.94 423.67,38.50 424.69,38.06 425.70,37.61 426.72,37.17 427.73,36.72 428.75,36.28 429.76,35.83 430.78,35.39 431.79,34.94 432.81,34.50 433.82,34.05 434.84,33.61 435.85,33.17 436.87,32.72 437.88,32.28 438.90,31.83 439.91,31.39 440.93,30.94 441.94,30.50 442.96,30.05 443.97,29.61 444.99,29.16 446.00,28.72 447.02,28.28 448.03,27.83 449.05,27.39 450.06,26.94 451.08,26.50 452.09,26.05 453.11,25.61 454.12,25.16 455.14,24.72 456.15,24.27 457.17,23.83 458.18,23.39 459.20,22.94 460.21,22.50 461.23,22.05 462.24,21.61 463.26,21.16 464.27,20.72 465.29,20.27 466.30,19.83 467.32,19.38 468.33,18.94 469.35,18.50 470.36,18.05 471.38,17.61 472.39,17.16 473.41,16.72 474.42,16.27 475.44,15.83 476.45,15.38 477.47,14.94 478.48,14.49 479.50,14.05 480.51,13.61 481.53,13.16 482.54,12.72 483.56,12.27 484.57,11.83 485.59,11.38 486.60,10.94 487.62,10.49 488.63,10.05 489.65,9.60 490.66,9.16 491.68,8.72 492.69,8.27 493.71,7.83 494.72,7.38" stroke="#bcbd22" stroke-width="2" fill="none" stroke-linejoin="round" stroke-linecap="square"/>
<line x1="436" y1="24.8" x2="436" y2="53.5" stroke="#000" stroke-opacity="0.72" stroke-width="1.25"/>
<text x="62.20" y="266.8" text-anchor="middle" class="tl">−1.2</text>
<text x="128.74" y="266.8" text-anchor="middle" class="tl">−1.0</text>
<text x="195.28" y="266.8" text-anchor="middle" class="tl">−0.8</text>
<text x="261.83" y="266.8" text-anchor="middle" class="tl">−0.6</text>
<text x="328.37" y="266.8" text-anchor="middle" class="tl">−0.4</text>
<text x="394.91" y="266.8" text-anchor="middle" class="tl">−0.2</text>
<text x="461.45" y="266.8" text-anchor="middle" class="tl">0.0</text>
<text x="41.6" y="49.10" text-anchor="end" class="tl">−3</text>
<text x="41.6" y="98.80" text-anchor="end" class="tl">−4</text>
<text x="41.6" y="148.50" text-anchor="end" class="tl">−5</text>
<text x="41.6" y="198.20" text-anchor="end" class="tl">−6</text>
<text x="41.6" y="247.90" text-anchor="end" class="tl">−7</text>
<text y="282.7" class="al" style="font-size:15.8px"><tspan x="224.0">log(</tspan><tspan x="248.3">−</tspan><tspan x="260.2">log(</tspan><tspan x="286.6">1</tspan><tspan x="296.0">−</tspan><tspan x="308.6">Γ</tspan><tspan x="317.7" font-size="12" dy="2.6">e</tspan><tspan x="324.2" dy="-2.6">))</tspan></text>
<text transform="translate(14.5,128.8) rotate(-90) scale(1,1.05)" text-anchor="middle" class="al">log(<tspan font-style="italic">Ṁ</tspan> [<tspan font-style="italic">M</tspan><tspan font-size="10" dy="1.4" dx="0.8">⊙</tspan><tspan dy="-1.4" dx="-1.2"> yr</tspan><tspan font-size="11.5" dy="-5.2">−1</tspan><tspan dy="5.2" dx="1.3">])</tspan></text>
<text x="70.6" y="32.7" class="an">optically thick winds</text>
<text x="382.6" y="229.7" class="an">optically thin winds</text>
<text transform="translate(308.9,79.5) rotate(-22.2) scale(1,1.05)" class="wr">WR-type mass loss</text>
<text y="64.7" class="mv"><tspan x="430.1" font-style="italic">Ṁ</tspan><tspan x="439.6" font-size="11.5">/</tspan><tspan x="444.2" font-style="italic">v</tspan><tspan x="448.6" font-size="8.8" dy="1.6">∞</tspan><tspan x="458.6" dy="-1.6">=</tspan><tspan x="468.4" letter-spacing="0.22">const.</tspan></text>
<g transform="translate(348.7,116.9) rotate(-17.4)"><rect x="-10.2" y="-5" width="20.6" height="10" fill="#fff"/><text x="-9.2" y="2.6" class="eta"><tspan font-style="italic">η</tspan><tspan x="-2.6">=</tspan><tspan x="5">1</tspan></text></g>
<g transform="translate(86.4,240.9) rotate(-78)" fill="#bcbd22"><text class="zl">1.5</text><text x="12.9" class="zl">Z</text><circle cx="20.0" cy="0.0" r="1.7" fill="none" stroke="#bcbd22" stroke-width="0.55"/><circle cx="20.0" cy="0.0" r="0.45"/></g>
<g transform="translate(125.9,235.6) rotate(-78)" fill="#d62728"><text class="zl">1.0</text><text x="12.9" class="zl">Z</text><circle cx="20.0" cy="0.0" r="1.7" fill="none" stroke="#d62728" stroke-width="0.55"/><circle cx="20.0" cy="0.0" r="0.45"/></g>
<g transform="translate(178.4,235.1) rotate(-78)" fill="#ff7f0e"><text class="zl">0.5</text><text x="12.9" class="zl">Z</text><circle cx="20.0" cy="0.0" r="1.7" fill="none" stroke="#ff7f0e" stroke-width="0.55"/><circle cx="20.0" cy="0.0" r="0.45"/></g>
<g transform="translate(232.4,235.4) rotate(-81)" fill="#e377c2"><text class="zl">0.2</text><text x="12.9" class="zl">Z</text><circle cx="20.2" cy="-0.2" r="1.7" fill="none" stroke="#e377c2" stroke-width="0.55"/><circle cx="20.2" cy="-0.2" r="0.45"/></g>
<g transform="translate(266.6,235.1) rotate(-82)" fill="#9467bd"><text class="zl">0.1</text><text x="13.9" class="zl">Z</text><circle cx="21.2" cy="-0.2" r="1.7" fill="none" stroke="#9467bd" stroke-width="0.55"/><circle cx="21.2" cy="-0.2" r="0.45"/></g>
</svg>
</body></html>
